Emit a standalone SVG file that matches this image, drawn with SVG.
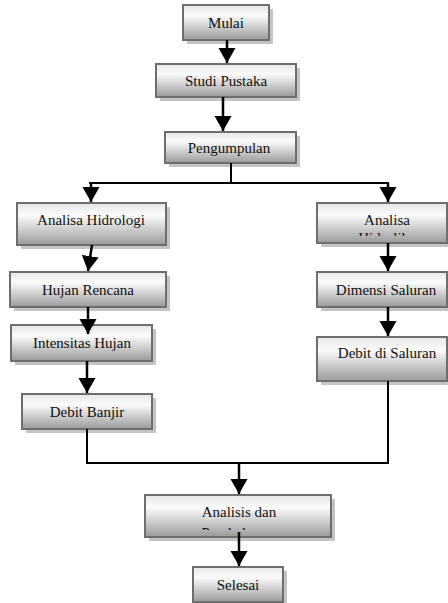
<svg xmlns="http://www.w3.org/2000/svg" width="448" height="603" viewBox="0 0 448 603">
<style>
.sh{fill:#c4c4c4}
.bx{fill:url(#g);stroke:#6e6e6e;stroke-width:2}
.t{font-family:"Liberation Serif","DejaVu Serif",serif;font-size:15px;fill:#111;text-anchor:middle}
.ln{fill:none;stroke:#000;stroke-width:2}
.ar{fill:none;stroke:#000;stroke-width:2.5;marker-end:url(#ah)}
</style>
<defs>
<linearGradient id="g" x1="0" y1="0" x2="0" y2="1">
<stop offset="0" stop-color="#e6e6e6"/>
<stop offset="0.3" stop-color="#fbfbfb"/>
<stop offset="1" stop-color="#9a9a9a"/>
</linearGradient>
<marker id="ah" markerUnits="userSpaceOnUse" markerWidth="16" markerHeight="18" refX="15" refY="8.5" orient="auto">
<path d="M0,0 L15,8.5 L0,17 Z" fill="#000"/>
</marker>
<clipPath id="c1"><rect x="317" y="203" width="131" height="33"/></clipPath>
<clipPath id="c2"><rect x="145" y="495" width="186" height="35"/></clipPath>
</defs>

<g id="mulai"><rect class="sh" x="187" y="9" width="86" height="35"/><rect class="bx" x="183" y="5" width="86" height="35"/><text class="t" x="226" y="28">Mulai</text></g>
<g id="studi-pustaka"><rect class="sh" x="160" y="68" width="140" height="33"/><rect class="bx" x="156" y="64" width="140" height="33"/><text class="t" x="226" y="86">Studi Pustaka</text></g>
<g id="pengumpulan"><rect class="sh" x="169" y="136" width="131" height="31"/><rect class="bx" x="165" y="132" width="131" height="31"/><text class="t" x="229" y="153">Pengumpulan</text></g>
<g id="analisa-hidrologi"><rect class="sh" x="21" y="207" width="149" height="42"/><rect class="bx" x="17" y="203" width="149" height="42"/><text class="t" x="91" y="225">Analisa Hidrologi</text></g>
<g id="hujan-rencana"><rect class="sh" x="14" y="276" width="156" height="35"/><rect class="bx" x="10" y="272" width="156" height="35"/><text class="t" x="88" y="295">Hujan Rencana</text></g>
<g id="intensitas-hujan"><rect class="sh" x="15" y="329" width="141" height="36"/><rect class="bx" x="11" y="325" width="141" height="36"/><text class="t" x="82" y="348">Intensitas Hujan</text></g>
<g id="debit-banjir"><rect class="sh" x="26" y="398" width="130" height="35"/><rect class="bx" x="22" y="394" width="130" height="35"/><text class="t" x="87" y="417">Debit Banjir</text></g>
<g id="analisa-hidrolika"><rect class="sh" x="321" y="207" width="130" height="40"/><rect class="bx" x="317" y="203" width="130" height="40"/><g clip-path="url(#c1)"><text class="t" x="387" y="225">Analisa</text><text class="t" x="387" y="243">Hidrolika</text></g></g>
<g id="dimensi-saluran"><rect class="sh" x="321" y="276" width="130" height="35"/><rect class="bx" x="317" y="272" width="130" height="35"/><text class="t" x="386" y="295">Dimensi Saluran</text></g>
<g id="debit-di-saluran"><rect class="sh" x="321" y="341" width="130" height="44"/><rect class="bx" x="317" y="337" width="130" height="44"/><text class="t" x="387" y="358">Debit di Saluran</text></g>
<g id="analisis-pembahasan"><rect class="sh" x="149" y="499" width="186" height="42"/><rect class="bx" x="145" y="495" width="186" height="42"/><g clip-path="url(#c2)"><text class="t" x="239" y="517">Analisis dan</text><text class="t" x="239" y="538">Pembahasan</text></g></g>
<g id="selesai"><rect class="sh" x="197" y="571" width="90" height="35"/><rect class="bx" x="193" y="567" width="90" height="35"/><text class="t" x="238" y="590">Selesai</text></g>

<g id="connectors">
<line class="ar" x1="227" y1="40" x2="227" y2="63"/>
<line class="ar" x1="223" y1="97" x2="223" y2="131"/>
<polyline class="ln" points="231,163 231,183"/>
<line class="ln" x1="89" y1="183" x2="389" y2="183"/>
<line class="ar" x1="91" y1="183" x2="91" y2="202"/>
<line class="ar" x1="388" y1="183" x2="388" y2="202"/>
<line class="ar" x1="92" y1="245" x2="88" y2="271"/>
<line class="ar" x1="88" y1="307" x2="88" y2="334"/>
<line class="ar" x1="87" y1="361" x2="87" y2="393"/>
<line class="ar" x1="388" y1="243" x2="388" y2="271"/>
<line class="ar" x1="388" y1="307" x2="388" y2="336"/>
<polyline class="ln" points="87,429 87,463 388,463 388,381"/>
<line class="ar" x1="239" y1="463" x2="239" y2="494"/>
<line class="ar" x1="239" y1="532" x2="239" y2="566"/>
</g>
</svg>
